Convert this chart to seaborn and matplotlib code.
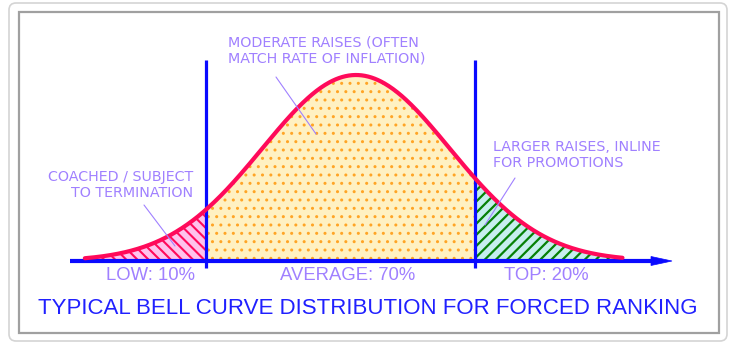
import numpy as np
import pandas as pd
import matplotlib
matplotlib.use('Agg')
import matplotlib.pyplot as plt
import seaborn as sns
from matplotlib.patches import FancyBboxPatch, Rectangle, Polygon

# --- chart content ---
categories = ['LOW: 10%', 'AVERAGE: 70%', 'TOP: 20%']
shares = [10, 70, 20]
cut_points = [-1.6, 1.27]          # group boundaries, in standard deviations
curve_mean = 0.0
curve_sd = 1.0
curve_range = [-2.9, 2.85]
notes = ['COACHED / SUBJECT\nTO TERMINATION',
         'MODERATE RAISES (OFTEN\nMATCH RATE OF INFLATION)',
         'LARGER RAISES, INLINE\nFOR PROMOTIONS']
title = 'TYPICAL BELL CURVE DISTRIBUTION FOR FORCED RANKING'

# --- pixel geometry of the drawing ---
W, H = 734, 352
CX, SX = 356, 93.5      # pixel x of the mean, pixels per sd
BASE, PEAK = 261, 186   # pixel y of baseline, pixel height of the peak


def to_data(px, py):
    return (px - CX) / SX, (BASE - py) / PEAK


def hatch_lw(coll, lw):
    if hasattr(coll, 'set_hatch_linewidth'):
        coll.set_hatch_linewidth(lw)


BLUE = '#0a0aff'
CURVE = '#ff0a5a'
NOTE = '#a080ff'

sns.set_theme(style='white')
plt.rcParams['font.family'] = ['DejaVu Sans']

fig = plt.figure(figsize=(W / 100, H / 100), dpi=100)
ax = fig.add_axes([0, 0, 1, 1])
ax.set_xlim(to_data(0, 0)[0], to_data(W, 0)[0])
ax.set_ylim(to_data(0, H)[1], to_data(0, 0)[1])
ax.axis('off')

# frames
ax.add_patch(FancyBboxPatch((9, H - 341), 718, 338,
                            boxstyle='round,pad=0,rounding_size=7',
                            transform=None, facecolor='white',
                            edgecolor='#d4d4d4', lw=1.2, zorder=0))
ax.add_patch(Rectangle((19, H - 333), 700, 321, transform=None,
                       facecolor='white', edgecolor='#a0a0a0', lw=1.6,
                       zorder=0))

# curve
z = np.linspace(curve_range[0], curve_range[1], 500)
density = np.exp(-0.5 * ((z - curve_mean) / curve_sd) ** 2)
df = pd.DataFrame({'z': z, 'density': density})
lo, hi = cut_points

plt.rcParams['hatch.linewidth'] = 1.6
low = ax.fill_between(df.z, 0, df.density, where=df.z <= lo, interpolate=True,
                      facecolor='#ffc2ec', edgecolor=CURVE, hatch='\\\\\\',
                      lw=0, zorder=2)
top = ax.fill_between(df.z, 0, df.density, where=df.z >= hi, interpolate=True,
                      facecolor='#c6eeee', edgecolor='#068006', hatch='///',
                      lw=0, zorder=2)
mid = ax.fill_between(df.z, 0, df.density, where=(df.z >= lo) & (df.z <= hi),
                      interpolate=True, facecolor='#fff1c2',
                      edgecolor='#ffa526', hatch='..', lw=0, zorder=2)
hatch_lw(low, 1.5)
hatch_lw(top, 1.6)
hatch_lw(mid, 1.0)

# axis with arrow
x0, _ = to_data(70, BASE)
x1, _ = to_data(655, BASE)
xa, _ = to_data(672, BASE)
ax.plot([x0, x1], [0, 0], color=BLUE, lw=3, zorder=4, solid_capstyle='butt')
hx, _ = to_data(651, BASE)
hh = 4.5 / PEAK
ax.add_patch(Polygon([[hx, hh], [xa, 0], [hx, -hh]], closed=True,
                     facecolor=BLUE, edgecolor=BLUE, lw=0.5, zorder=4))

ax.vlines(cut_points, to_data(0, 268)[1], to_data(0, 60)[1],
          color=BLUE, lw=2.3, zorder=5)

sns.lineplot(data=df, x='z', y='density', color=CURVE, lw=3, ax=ax,
             zorder=6)
ax.set_xlabel('')
ax.set_ylabel('')

# notes with leader lines
note_font = dict(family='DejaVu Sans', fontsize=10.3, color=NOTE,
                 linespacing=1.25)
ax.text(*to_data(193, 185), notes[0], ha='right', va='center',
        multialignment='right', **note_font)
ax.text(*to_data(228, 50.5), notes[1], ha='left', va='center', **note_font)
ax.text(*to_data(493, 155), notes[2], ha='left', va='center', **note_font)

for (ax0, ay0), (bx0, by0) in [((144, 205), (175, 246)),
                               ((276, 77), (316, 134)),
                               ((515, 178), (485, 225))]:
    p, q = to_data(ax0, ay0), to_data(bx0, by0)
    ax.plot([p[0], q[0]], [p[1], q[1]], color=NOTE, lw=0.8, zorder=7)

# category labels
for label, px in zip(categories, [150, 348, 546]):
    ax.text(*to_data(px, 276), label, ha='center', va='center',
            family='Liberation Sans', fontsize=13.3, color=NOTE)

ax.text(*to_data(368, 309), title, ha='center', va='center',
        family='Liberation Sans', fontsize=16, color='#2020ff')

fig.savefig('out.png', dpi=100)
